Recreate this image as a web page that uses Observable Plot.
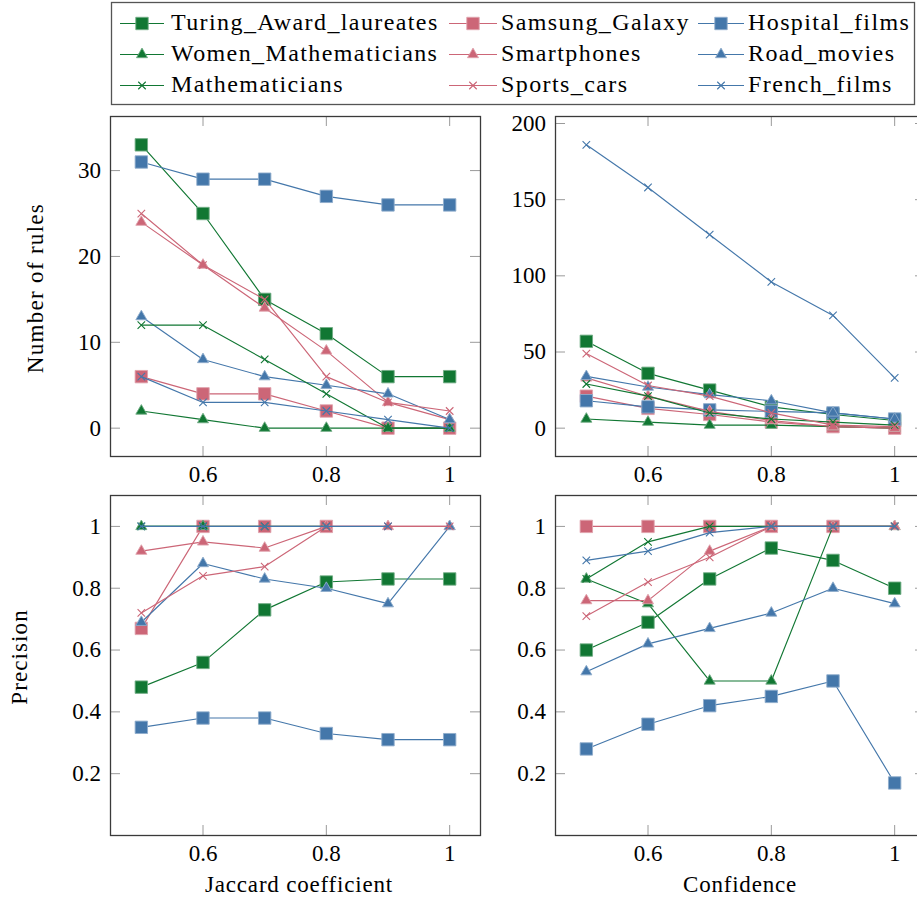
<!DOCTYPE html>
<html><head><meta charset="utf-8">
<script src="https://cdn.jsdelivr.net/npm/d3@7"></script>
<script src="https://cdn.jsdelivr.net/npm/@observablehq/plot@0.6"></script>
<style>
html,body{margin:0;padding:0;background:#fff;}
body{width:917px;height:907px;overflow:hidden;font-family:"Liberation Serif",serif;}
#root{position:relative;width:917px;height:907px;overflow:hidden;}
#root > svg{position:absolute;}
</style></head><body><div id="root"></div>
<script>
// ---------- data ----------
const xValues = [0.5, 0.6, 0.7, 0.8, 0.9, 1];
const seriesNames = ["Turing_Award_laureates", "Samsung_Galaxy", "Hospital_films",
  "Women_Mathematicians", "Smartphones", "Road_movies",
  "Mathematicians", "Sports_cars", "French_films"];

// Number of rules vs Jaccard coefficient (series in seriesNames order)
const rulesByJaccard = [
  [33, 25, 15, 11, 6, 6],
  [6, 4, 4, 2, 0, 0],
  [31, 29, 29, 27, 26, 26],
  [2, 1, 0, 0, 0, 0],
  [24, 19, 14, 9, 3, 1],
  [13, 8, 6, 5, 4, 1],
  [12, 12, 8, 4, 0, 0],
  [25, 19, 15, 6, 3, 2],
  [6, 3, 3, 2, 1, 0]
];
// Number of rules vs Confidence
const rulesByConfidence = [
  [57, 36, 25, 14, 9, 5],
  [21, 13, 9, 4, 1, 0],
  [18, 14, 12, 11, 10, 6],
  [6, 4, 2, 2, 1, 0],
  [33, 21, 11, 5, 1, 0],
  [34, 27, 22, 18, 10, 6],
  [29, 21, 10, 6, 4, 2],
  [49, 28, 21, 10, 2, 1],
  [186, 158, 127, 96, 74, 33]
];
// Precision vs Jaccard coefficient
const precisionByJaccard = [
  [0.48, 0.56, 0.73, 0.82, 0.83, 0.83],
  [0.67, 1, 1, 1, null, null],
  [0.35, 0.38, 0.38, 0.33, 0.31, 0.31],
  [1, 1, null, null, null, null],
  [0.92, 0.95, 0.93, 1, 1, 1],
  [0.69, 0.88, 0.83, 0.80, 0.75, 1],
  [1, 1, 1, 1, null, null],
  [0.72, 0.84, 0.87, 1, 1, 1],
  [1, 1, 1, 1, 1, null]
];
// Precision vs Confidence
const precisionByConfidence = [
  [0.60, 0.69, 0.83, 0.93, 0.89, 0.80],
  [1, 1, 1, 1, 1, null],
  [0.28, 0.36, 0.42, 0.45, 0.50, 0.17],
  [0.83, 0.75, 0.50, 0.50, 1, 1],
  [0.76, 0.76, 0.92, 1, 1, 1],
  [0.53, 0.62, 0.67, 0.72, 0.80, 0.75],
  [0.83, 0.95, 1, 1, 1, 1],
  [0.71, 0.82, 0.90, 1, 1, 1],
  [0.89, 0.92, 0.98, 1, 1, 1]
];

const xTicks = [0.6, 0.8, 1];
const rulesJaccardTicks = [0, 10, 20, 30];
const rulesConfidenceTicks = [0, 50, 100, 150, 200];
const precisionTicks = [0.2, 0.4, 0.6, 0.8, 1];
const xTitles = ["Jaccard coefficient", "Confidence"];
const yTitles = ["Number of rules", "Precision"];

// ---------- styles ----------
const GREEN = "#117733", ROSE = "#CC6677", BLUE = "#4477AA";
const seriesColor = [GREEN, ROSE, BLUE, GREEN, ROSE, BLUE, GREEN, ROSE, BLUE];
const seriesSymbol = ["square", "square", "square", "triangle", "triangle", "triangle", "times", "times", "times"];
const symbolR = {square: 7, triangle: 4.1, times: 3.5};
const FONT = "'Liberation Serif', 'Times New Roman', serif";
const TICK_GRAY = "#9a9a9a";
const FRAME = "#3a3a3a";
const light = c => d3.interpolateRgb(c, "#ffffff")(0.4);

const root = document.getElementById("root");

function panel(values, yDomain, yTicks, left, top) {
  const W = 500, H = 400, mL = 110, mR = 20, mT = 16, mB = 44;
  const fw = W - mL - mR, fh = H - mT - mB, tl = 10;
  const marks = [
    Plot.tickX(xTicks, {x: d => d, stroke: TICK_GRAY, strokeWidth: 1, insetBottom: fh - tl}),
    Plot.tickX(xTicks, {x: d => d, stroke: TICK_GRAY, strokeWidth: 1, insetTop: fh - tl}),
    Plot.tickY(yTicks, {y: d => d, stroke: TICK_GRAY, strokeWidth: 1, insetRight: fw - tl}),
    Plot.tickY(yTicks, {y: d => d, stroke: TICK_GRAY, strokeWidth: 1, insetLeft: fw - tl}),
    Plot.axisX({ticks: xTicks, tickSize: 0, tickPadding: 9, tickFormat: d => String(d), label: null, fontSize: 23}),
    Plot.axisY({ticks: yTicks, tickSize: 0, tickPadding: 9.5, tickFormat: d => String(d), label: null, fontSize: 23})
  ];
  values.forEach((vals, s) => {
    const rows = vals.map((v, i) => ({x: xValues[i], y: v})).filter(d => d.y != null);
    const c = seriesColor[s], sym = seriesSymbol[s];
    marks.push(Plot.line(rows, {x: "x", y: "y", stroke: c, strokeWidth: 1.15}));
    if (sym === "times") {
      marks.push(Plot.dot(rows, {x: "x", y: "y", symbol: sym, r: symbolR[sym], stroke: c, fill: "none", strokeWidth: 1.1}));
    } else {
      marks.push(Plot.dot(rows, {x: "x", y: "y", symbol: sym, r: symbolR[sym], fill: c, stroke: light(c), strokeWidth: 0.9}));
    }
  });
  marks.push(Plot.frame({stroke: FRAME, strokeWidth: 1.3}));
  const svg = Plot.plot({
    width: W, height: H, marginLeft: mL, marginRight: mR, marginTop: mT, marginBottom: mB,
    x: {domain: [0.45, 1.05]},
    y: {domain: yDomain},
    style: {fontFamily: FONT, fontSize: "23px", color: "#000", background: "none", overflow: "visible"},
    marks
  });
  svg.style.left = left + "px";
  svg.style.top = top + "px";
  root.appendChild(svg);
}

panel(rulesByJaccard, [-3.3, 36.3], rulesJaccardTicks, 0, 100);
panel(rulesByConfidence, [-18.6, 204.6], rulesConfidenceTicks, 445, 100);
panel(precisionByJaccard, [0, 1.1], precisionTicks, 0, 479);
panel(precisionByConfidence, [0, 1.1], precisionTicks, 445, 479);

// ---------- titles & legend overlay ----------
const ov = d3.create("svg").attr("width", 917).attr("height", 907)
  .style("left", "0px").style("top", "0px")
  .style("font-family", FONT).style("font-size", "23px");

ov.append("text").attr("x", 299).attr("y", 892).attr("text-anchor", "middle")
  .style("letter-spacing", "0.8px").text(xTitles[0]);
ov.append("text").attr("x", 740).attr("y", 892).attr("text-anchor", "middle")
  .style("letter-spacing", "0.8px").text(xTitles[1]);
ov.append("text").attr("transform", "translate(43,288) rotate(-90)").attr("text-anchor", "middle")
  .style("letter-spacing", "1.3px").text(yTitles[0]);
ov.append("text").attr("transform", "translate(26.5,657) rotate(-90)").attr("text-anchor", "middle")
  .style("letter-spacing", "1.1px").text(yTitles[1]);

// legend
ov.append("rect").attr("x", 111.5).attr("y", 2.5).attr("width", 803).attr("height", 102)
  .attr("fill", "#fff").attr("stroke", "#555").attr("stroke-width", 1.3);
const cols = [{x0: 120, x1: 164, tx: 171}, {x0: 449, x1: 497, tx: 501}, {x0: 698, x1: 744, tx: 748}];
const rowsY = [23.5, 54.5, 85.5];
const d3sym = {square: d3.symbolSquare, triangle: d3.symbolTriangle, times: d3.symbolTimes};
seriesNames.forEach((name, s) => {
  const col = cols[s % 3], y = rowsY[Math.floor(s / 3)];
  const c = seriesColor[s], sym = seriesSymbol[s];
  const g = ov.append("g");
  g.append("line").attr("x1", col.x0).attr("x2", col.x1).attr("y1", y).attr("y2", y)
    .attr("stroke", c).attr("stroke-width", 1.15);
  const r = symbolR[sym];
  const p = g.append("path").attr("transform", `translate(${(col.x0 + col.x1) / 2},${y})`)
    .attr("d", d3.symbol(d3sym[sym], Math.PI * r * r)());
  if (sym === "times") p.attr("fill", "none").attr("stroke", c).attr("stroke-width", 1.1);
  else p.attr("fill", c).attr("stroke", light(c)).attr("stroke-width", 0.9);
  g.append("text").attr("x", col.tx).attr("y", y + 6.5).style("font-size", "24px")
    .style("letter-spacing", "1.4px").text(name);
});
root.appendChild(ov.node());
</script>
</body></html>
